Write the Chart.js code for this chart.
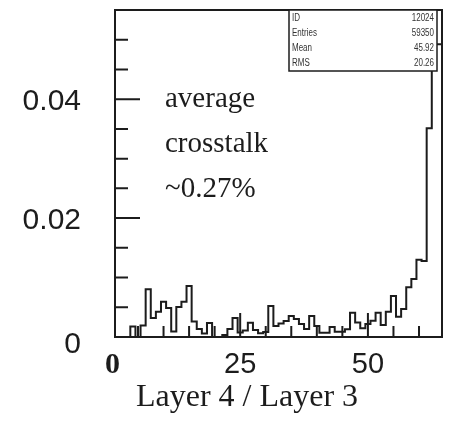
<!DOCTYPE html>
<html>
<head>
<meta charset="utf-8">
<script src="https://cdn.jsdelivr.net/npm/chart.js@4.4.0/dist/chart.umd.min.js"></script>
<style>
  html, body { margin: 0; padding: 0; background: #fff; }
  canvas { display: block; }
</style>
</head>
<body>
<canvas id="hist" width="449" height="423"></canvas>
<script>
// 64 bins of width 1, first bin starts at 0.5
const binLow = 0.5;
const counts = [
  0.00235, 0, 0, 0, 0.00176, 0, 0.00193, 0.00802, 0.00319, 0.00425,
  0.00593, 0.00487, 0.00092, 0.00504, 0.00593, 0.00857, 0.00261, 0.00134, 0.00059, 0.00235,
  0, 0, 0.00034, 0.00134, 0.00319, 0.00076, 0.00109, 0.0024, 0.00118, 0.00062,
  0.00084, 0.00521, 0.00185, 0.00227, 0.00269, 0.00353, 0.00303, 0.00218, 0.00134, 0.00353,
  0.00185, 0.00072, 0.00072, 0.00168, 0.00089, 0.00089, 0.00129, 0.00408, 0.00244, 0.00146,
  0.00218, 0.00274, 0.00408, 0.00202, 0.00425, 0.00689, 0.00341, 0.00471, 0.00835, 0.00975,
  0.01299, 0.01277, 0.03513, 0.04924
];
const yTickValues = [0, 0.02, 0.04];
const yTickLabels = ['0', '0.02', '0.04'];
const xTickValues = [0, 25, 50];
const xTickLabels = ['0', '25', '50'];
const statNames = ['ID', 'Entries', 'Mean', 'RMS'];
const statValues = ['12024', '59350', '45.92', '20.26'];
const noteLines = ['average', 'crosstalk', '~0.27%'];
const xTitle = 'Layer 4 / Layer 3';

// step outline like a ROOT histogram
let points = [{ x: binLow, y: 0 }];
counts.forEach((c, i) => points.push({ x: binLow + i, y: c }));
points.push({ x: binLow + counts.length, y: counts[counts.length - 1] });
points.push({ x: binLow + counts.length, y: 0 });

const ink = '#1c1c1c';

const rootFrame = {
  id: 'rootFrame',
  afterDatasetsDraw(chart) {
    const ctx = chart.ctx;
    const a = chart.chartArea;
    const xs = chart.scales.x;
    const ys = chart.scales.y;
    ctx.save();
    ctx.strokeStyle = ink;
    ctx.fillStyle = ink;
    ctx.lineWidth = 2;
    ctx.strokeRect(a.left, a.top, a.right - a.left, a.bottom - a.top);

    // inner ticks
    ctx.beginPath();
    for (let v = 5; v < 64; v += 5) {
      const px = xs.getPixelForValue(v);
      const len = v % 25 === 0 ? 24 : 11;
      ctx.moveTo(px, a.bottom);
      ctx.lineTo(px, a.bottom - len);
    }
    for (let k = 1; k <= 10; k++) {
      const py = ys.getPixelForValue(k * 0.005);
      const len = k % 4 === 0 ? 25 : 13;
      ctx.moveTo(a.left, py);
      ctx.lineTo(a.left + len, py);
    }
    ctx.stroke();

    // y labels
    ctx.font = '30px "Liberation Sans"';
    ctx.textAlign = 'right';
    ctx.textBaseline = 'middle';
    yTickValues.forEach((v, i) => {
      const py = ys.getPixelForValue(v) + (v === 0 ? 8 : 3);
      ctx.fillText(yTickLabels[i], 81, py);
    });

    // x labels
    ctx.textAlign = 'center';
    xTickValues.forEach((v, i) => {
      ctx.font = v === 0 ? 'bold 30px "Liberation Serif"' : '29px "Liberation Sans"';
      ctx.fillText(xTickLabels[i], xs.getPixelForValue(v), a.bottom + 28);
    });

    // axis title
    ctx.font = '32px "Liberation Serif"';
    ctx.textBaseline = 'alphabetic';
    ctx.fillText(xTitle, 247, 406);

    // note
    ctx.textAlign = 'left';
    ctx.font = '29px "Liberation Serif"';
    noteLines.forEach((t, i) => ctx.fillText(t, 165, 107 + i * 45));

    // stats box
    const bx = 289, by = a.top, bw = 148, bh = 61;
    ctx.fillStyle = '#fff';
    ctx.fillRect(bx, by, bw, bh);
    ctx.lineWidth = 1.5;
    ctx.strokeRect(bx, by, bw, bh);
    ctx.fillStyle = '#333';
    ctx.font = '10px "Liberation Sans"';
    ctx.textBaseline = 'middle';
    statNames.forEach((n, i) => {
      const ty = by + 8 + i * 15;
      // narrow lettering as in the original stats box
      ctx.save();
      ctx.translate(bx + 3, ty);
      ctx.scale(0.8, 1);
      ctx.textAlign = 'left';
      ctx.fillText(n, 0, 0);
      ctx.restore();
      ctx.save();
      ctx.translate(bx + bw - 3, ty);
      ctx.scale(0.8, 1);
      ctx.textAlign = 'right';
      ctx.fillText(statValues[i], 0, 0);
      ctx.restore();
    });
    ctx.restore();
  }
};

new Chart(document.getElementById('hist'), {
  type: 'line',
  data: {
    datasets: [
      {
        data: points,
        stepped: 'after',
        borderColor: ink,
        borderWidth: 2,
        pointRadius: 0,
        fill: false,
      },
    ],
  },
  options: {
    responsive: false,
    animation: false,
    layout: {
      padding: { left: 115, top: 10, right: 7, bottom: 86 },
    },
    scales: {
      x: { type: 'linear', min: binLow, max: binLow + counts.length, display: false },
      y: { min: 0, max: 0.055, display: false },
    },
    plugins: {
      legend: { display: false },
      tooltip: { enabled: false },
    },
  },
  plugins: [rootFrame],
});
</script>
</body>
</html>
